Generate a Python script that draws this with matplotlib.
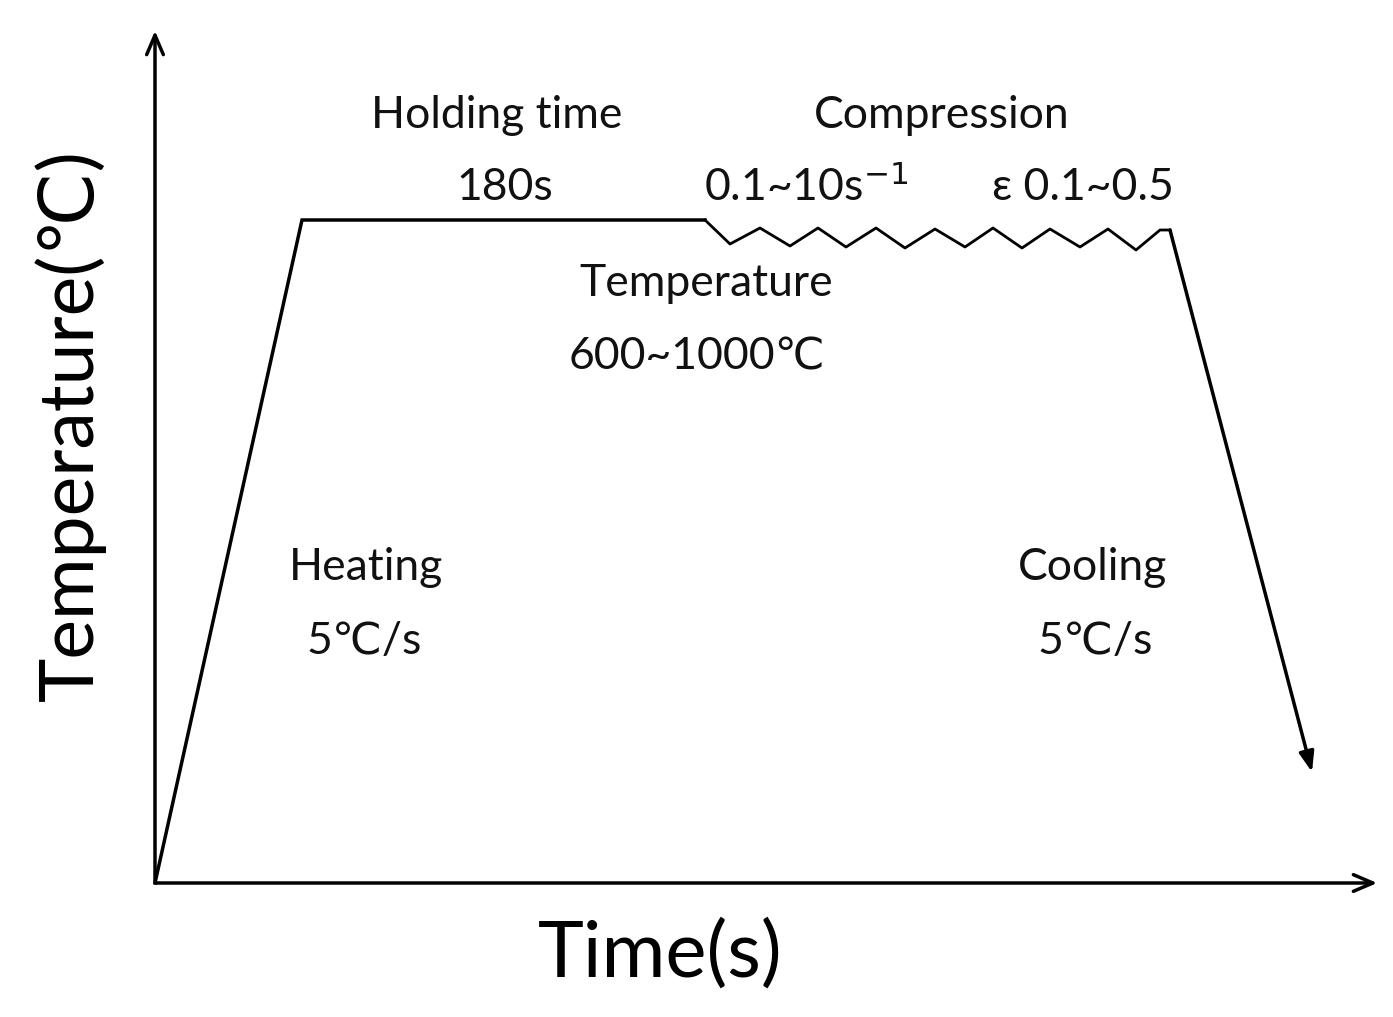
import matplotlib
matplotlib.use("Agg")
import matplotlib.pyplot as plt
import numpy as np

# schematic profile (pixel-like schematic units)
ramp_x = [155, 302, 705]
ramp_y = [883, 220, 220]
zig_x = [705, 730, 760, 790, 818, 846, 876, 905, 935, 965, 993, 1022, 1050, 1080, 1108, 1136, 1160, 1170]
zig_y = [220, 244, 228, 246, 228, 247, 228, 248, 229, 247, 228, 248, 229, 247, 229, 250, 230, 230]
cool_start = (1170, 230)
cool_end = (1312, 772)

labels = [
    ("Holding time", 497, 115),
    ("180s", 505, 187),
    ("Compression", 942, 115),
    ("0.1~10s$^{-1}$", 806, 187),
    ("ε 0.1~0.5", 1083, 187),
    ("Temperature", 706, 283),
    ("600~1000℃", 697, 357),
    ("Heating", 366, 567),
    ("5℃/s", 364, 642),
    ("Cooling", 1093, 567),
    ("5℃/s", 1095, 642),
]

fam = ['Lato', 'DejaVu Sans']
fig = plt.figure(figsize=(13.93, 10.17), dpi=100)
ax = fig.add_axes([0, 0, 1, 1])
ax.set_xlim(0, 1393)
ax.set_ylim(1017, 0)
ax.axis('off')

lw = 2.5
ax.annotate('', xy=(155, 28), xytext=(155, 885),
            arrowprops=dict(arrowstyle='->,head_length=1.4,head_width=0.6', lw=lw, color='black'))
ax.annotate('', xy=(1380, 883), xytext=(153, 883),
            arrowprops=dict(arrowstyle='->,head_length=1.4,head_width=0.6', lw=lw, color='black'))
ax.plot(ramp_x, ramp_y, color='black', lw=lw, solid_joinstyle='miter')
ax.plot(zig_x, zig_y, color='black', lw=2)
ax.annotate('', xy=cool_end, xytext=cool_start,
            arrowprops=dict(arrowstyle='-|>,head_length=1.2,head_width=0.45', lw=lw, color='black', shrinkA=0, shrinkB=0))

for t, x, y in labels:
    ax.text(x, y, t, ha='center', va='center', fontsize=32, family=fam, color='#111111')

ax.text(660, 955, "Time(s)", ha='center', va='center', fontsize=56, family=fam)
ax.text(70, 425, "Temperature(℃)", ha='center', va='center', fontsize=54, family=fam, rotation=90)

fig.savefig('out.png', dpi=100, facecolor='white')
